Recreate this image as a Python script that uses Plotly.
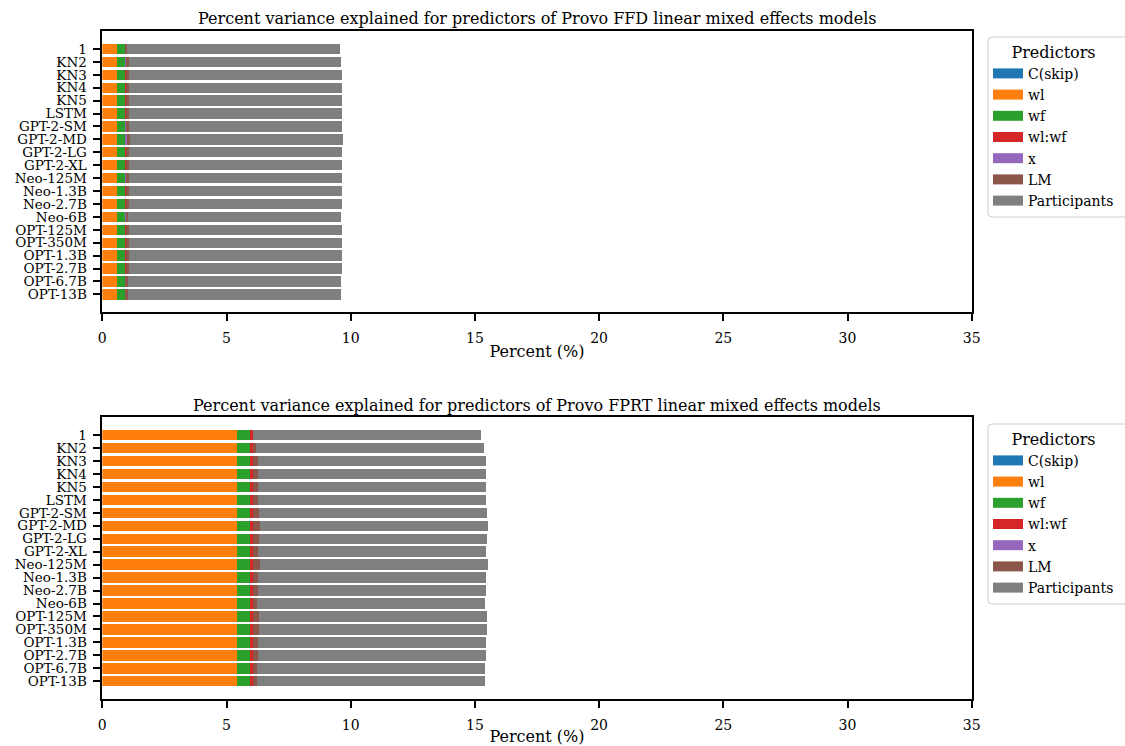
import plotly.graph_objects as go

models = ["1", "KN2", "KN3", "KN4", "KN5", "LSTM", "GPT-2-SM", "GPT-2-MD", "GPT-2-LG", "GPT-2-XL",
          "Neo-125M", "Neo-1.3B", "Neo-2.7B", "Neo-6B", "OPT-125M", "OPT-350M", "OPT-1.3B",
          "OPT-2.7B", "OPT-6.7B", "OPT-13B"]
predictors = ["C(skip)", "wl", "wf", "wl:wf", "x", "LM", "Participants"]
colors = ["#1f77b4", "#ff7f0e", "#2ca02c", "#d62728", "#9467bd", "#8c564b", "#7f7f7f"]

# FFD (top panel)
ffd_cskip = [0.0] * 20
ffd_wl = [0.60] * 20
ffd_wf = [0.33] * 20
ffd_wlwf = [0.03] * 20
ffd_x = [0.0, 0.04, 0.0, 0.0, 0.0, 0.0, 0.04, 0.04, 0.0, 0.0,
         0.04, 0.0, 0.0, 0.04, 0.0, 0.0, 0.0, 0.0, 0.0, 0.0]
ffd_lm = [0.02, 0.08, 0.11, 0.11, 0.11, 0.11, 0.08, 0.12, 0.11, 0.11,
          0.08, 0.11, 0.11, 0.04, 0.11, 0.11, 0.11, 0.11, 0.07, 0.07]
ffd_part = [8.59, 8.53, 8.58, 8.58, 8.58, 8.58, 8.57, 8.57, 8.58, 8.58,
            8.57, 8.58, 8.58, 8.57, 8.58, 8.58, 8.58, 8.58, 8.58, 8.58]

# FPRT (bottom panel)
fprt_cskip = [0.0] * 20
fprt_wl = [5.42] * 20
fprt_wf = [0.57] * 20
fprt_wlwf = [0.08] * 20
fprt_x = [0.0] * 20
fprt_lm = [0.0, 0.11, 0.20, 0.20, 0.20, 0.20, 0.24, 0.28, 0.24, 0.20,
           0.28, 0.20, 0.20, 0.16, 0.24, 0.24, 0.20, 0.20, 0.16, 0.16]
fprt_part = [9.17, 9.19, 9.18, 9.18, 9.18, 9.18, 9.18, 9.18, 9.18, 9.18,
             9.18, 9.18, 9.18, 9.18, 9.18, 9.18, 9.18, 9.18, 9.18, 9.18]

ffd = [ffd_cskip, ffd_wl, ffd_wf, ffd_wlwf, ffd_x, ffd_lm, ffd_part]
fprt = [fprt_cskip, fprt_wl, fprt_wf, fprt_wlwf, fprt_x, fprt_lm, fprt_part]

FONT = "DejaVu Serif"
W, H = 1125, 746
fig = go.Figure()
for data, xa, ya, lg in [(ffd, "x", "y", "legend"), (fprt, "x2", "y2", "legend2")]:
    for i, name in enumerate(predictors):
        fig.add_trace(go.Bar(y=models, x=data[i], name=name, orientation="h",
                             marker=dict(color=colors[i], line=dict(width=0)),
                             xaxis=xa, yaxis=ya, showlegend=False))
    # legend entries drawn as wide patches (matplotlib style)
    for i, name in enumerate(predictors):
        fig.add_trace(go.Scatter(x=[None], y=[None], name=name, mode="lines",
                                 line=dict(color=colors[i], width=11),
                                 xaxis=xa, yaxis=ya, legend=lg, showlegend=True,
                                 hoverinfo="skip"))

n = len(models)
xdom = [102.3 / W, 971.7 / W]
common_x = dict(range=[0, 35], tickmode="array", tickvals=[0, 5, 10, 15, 20, 25, 30, 35],
                showline=True, linecolor="black", linewidth=1.5, mirror=True,
                ticks="outside", ticklen=7, tickwidth=1.5, tickcolor="black",
                showgrid=False, zeroline=False, domain=xdom, ticklabelstandoff=5,
                tickfont=dict(family=FONT, size=14, color="black"),
                title=dict(text="Percent (%)", font=dict(family=FONT, size=16, color="black"), standoff=1))
common_y = dict(type="category", categoryorder="array", categoryarray=models,
                tickmode="array", tickvals=models, ticktext=models,
                range=[n - 1 + 1.39, -1.39],
                showline=True, linecolor="black", linewidth=1.5, mirror=True,
                ticks="outside", ticklen=8, tickwidth=1.5, tickcolor="black",
                showgrid=False, zeroline=False, ticklabelstandoff=3,
                tickfont=dict(family=FONT, size=13.5, color="black"))

leg_common = dict(bgcolor="rgba(0,0,0,0)", borderwidth=0,
                  font=dict(family=FONT, size=14, color="black"),
                  xanchor="left", yanchor="top", x=988 / W,
                  tracegroupgap=0, itemwidth=30, traceorder="normal")


def rounded_box(x0, y0, x1, y1, r=4):
    # pixel coords (top-left origin) -> paper path with rounded corners
    px = lambda v: v / W
    py = lambda v: 1 - v / H
    return (f"M{px(x0 + r)},{py(y0)} L{px(x1 - r)},{py(y0)} Q{px(x1)},{py(y0)} {px(x1)},{py(y0 + r)} "
            f"L{px(x1)},{py(y1 - r)} Q{px(x1)},{py(y1)} {px(x1 - r)},{py(y1)} "
            f"L{px(x0 + r)},{py(y1)} Q{px(x0)},{py(y1)} {px(x0)},{py(y1 - r)} "
            f"L{px(x0)},{py(y0 + r)} Q{px(x0)},{py(y0)} {px(x0 + r)},{py(y0)} Z")


frame = dict(type="path", xref="paper", yref="paper", fillcolor="white",
             line=dict(color="#cccccc", width=1), layer="below")

fig.update_layout(
    width=W, height=H,
    margin=dict(l=0, r=0, t=0, b=0, autoexpand=False),
    paper_bgcolor="white", plot_bgcolor="white",
    barmode="stack", bargap=0.2,
    font=dict(family=FONT, size=14, color="black"),
    xaxis=dict(**common_x, anchor="y"),
    yaxis=dict(**common_y, domain=[1 - 312.3 / H, 1 - 31 / H], anchor="x"),
    xaxis2=dict(**common_x, anchor="y2"),
    yaxis2=dict(**common_y, domain=[1 - 699.3 / H, 1 - 417 / H], anchor="x2"),
    legend=dict(**leg_common, y=1 - 37 / H,
                title=dict(text="Predictors", side="top center", font=dict(family=FONT, size=16))),
    legend2=dict(**leg_common, y=1 - 424 / H,
                 title=dict(text="Predictors", side="top center", font=dict(family=FONT, size=16))),
    shapes=[
        dict(**frame, path=rounded_box(988, 37, 1135, 217)),
        dict(**frame, path=rounded_box(988, 424, 1135, 604)),
    ],
    annotations=[
        dict(text="Percent variance explained for predictors of Provo FFD linear mixed effects models",
             x=(xdom[0] + xdom[1]) / 2, y=1 - 18 / H, xref="paper", yref="paper",
             xanchor="center", yanchor="middle", showarrow=False,
             font=dict(family=FONT, size=16, color="black")),
        dict(text="Percent variance explained for predictors of Provo FPRT linear mixed effects models",
             x=(xdom[0] + xdom[1]) / 2, y=1 - 405 / H, xref="paper", yref="paper",
             xanchor="center", yanchor="middle", showarrow=False,
             font=dict(family=FONT, size=16, color="black")),
    ],
)

fig.write_html("out.html")
